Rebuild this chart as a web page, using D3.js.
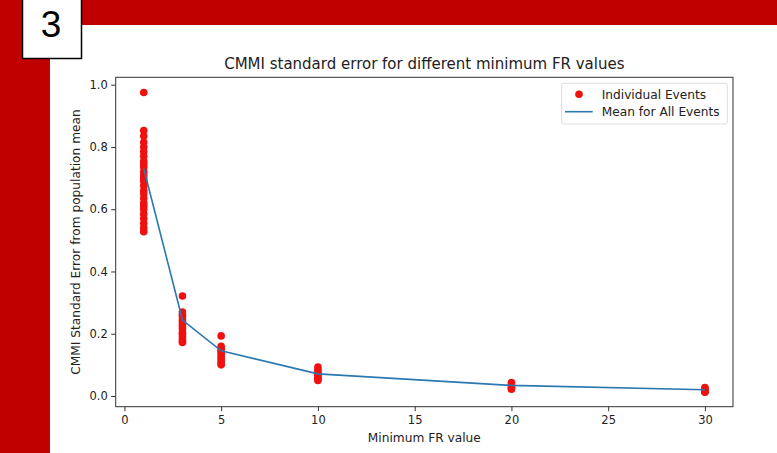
<!DOCTYPE html>
<html lang="en">
<head>
    <meta charset="UTF-8">
    <title>CMMI standard error</title>
    <script src="https://d3js.org/d3.v7.min.js"></script>
    <style>
        body { margin: 0; background: #fff; }
        svg { display: block; font-family: "DejaVu Sans", sans-serif; }
    </style>
</head>
<body>
    <svg id="chart" width="777" height="453"></svg>

    <script>
        // minimum FR values used as x positions
        var frValues = [1, 3, 5, 10, 20, 30];

        // individual event standard errors, one list per FR value
        var eventsFR1 = [0.975, 0.853, 0.835, 0.815, 0.80, 0.785, 0.77, 0.755, 0.745, 0.735, 0.72, 0.71,
                         0.70, 0.69, 0.675, 0.66, 0.65, 0.635, 0.62, 0.61, 0.60, 0.585, 0.57, 0.555, 0.54, 0.528];
        var eventsFR3 = [0.321, 0.27, 0.262, 0.255, 0.245, 0.238, 0.23, 0.222, 0.215, 0.205, 0.198, 0.19, 0.182, 0.175, 0.172];
        var eventsFR5 = [0.193, 0.16, 0.152, 0.145, 0.14, 0.132, 0.125, 0.118, 0.11, 0.104, 0.10];
        var eventsFR10 = [0.093, 0.085, 0.078, 0.072, 0.066, 0.06, 0.055, 0.05];
        var eventsFR20 = [0.043, 0.038, 0.033, 0.028, 0.024, 0.022];
        var eventsFR30 = [0.027, 0.023, 0.019, 0.016, 0.013, 0.012];

        // mean over all events
        var meanValues = [0.731, 0.244, 0.145, 0.071, 0.034, 0.020];

        var xTicks = [0, 5, 10, 15, 20, 25, 30];
        var yTicks = [0.0, 0.2, 0.4, 0.6, 0.8, 1.0];

        var svg = d3.select('#chart');

        // slide decoration: red bands and the numbered box
        svg.append('rect').attr('x', 0).attr('y', 0).attr('width', 777).attr('height', 25).attr('fill', '#c00000');
        svg.append('rect').attr('x', 0).attr('y', 0).attr('width', 50).attr('height', 453).attr('fill', '#c00000');
        svg.append('rect').attr('x', 22.5).attr('y', -2).attr('width', 59).attr('height', 60.5)
            .attr('fill', '#fff').attr('stroke', '#000').attr('stroke-width', 1.5);
        svg.append('text').attr('x', 51).attr('y', 37).attr('text-anchor', 'middle')
            .style('font-family', '"Liberation Sans", sans-serif').style('font-size', '37px')
            .text('3');

        // plot area
        var plotLeft = 115.7, plotRight = 733, plotTop = 77.3, plotBottom = 406.7;

        var x = d3.scaleLinear().domain([-0.45, 31.45]).range([plotLeft, plotRight]);
        var y = d3.scaleLinear().domain([0, 1]).range([396, 84.7]);

        var allEvents = [eventsFR1, eventsFR3, eventsFR5, eventsFR10, eventsFR20, eventsFR30];
        var points = [];
        allEvents.forEach(function(list, i) {
            list.forEach(function(v) { points.push({fr: frValues[i], se: v}); });
        });

        // frame
        svg.append('rect')
            .attr('x', plotLeft).attr('y', plotTop)
            .attr('width', plotRight - plotLeft).attr('height', plotBottom - plotTop)
            .attr('fill', 'none').attr('stroke', '#333').attr('stroke-width', 1);

        svg.append('g')
            .selectAll('circle')
            .data(points)
            .join('circle')
            .attr('cx', d => x(d.fr))
            .attr('cy', d => y(d.se))
            .attr('r', 3.8)
            .attr('fill', '#f01010');

        var line = d3.line()
            .x((d, i) => x(frValues[i]))
            .y(d => y(d));

        svg.append('path')
            .datum(meanValues)
            .attr('d', line)
            .attr('fill', 'none')
            .attr('stroke', '#2a78b0')
            .attr('stroke-width', 1.6);

        // axes
        var xAxis = svg.append('g')
            .attr('transform', `translate(0,${plotBottom})`)
            .call(d3.axisBottom(x).tickValues(xTicks).tickSize(4.5).tickPadding(5).tickSizeOuter(0));
        var yAxis = svg.append('g')
            .attr('transform', `translate(${plotLeft},0)`)
            .call(d3.axisLeft(y).tickValues(yTicks).tickFormat(d3.format('.1f')).tickSize(4.5).tickPadding(3.5).tickSizeOuter(0));
        [xAxis, yAxis].forEach(function(a) {
            a.select('.domain').remove();
            a.selectAll('line').attr('stroke', '#333');
            a.selectAll('text').attr('fill', '#222').style('font-size', '11.5px').style('font-family', '"DejaVu Sans", sans-serif');
        });

        // labels
        svg.append('text')
            .attr('x', (plotLeft + plotRight) / 2).attr('y', 69)
            .attr('text-anchor', 'middle')
            .style('font-size', '15px').attr('fill', '#222')
            .text('CMMI standard error for different minimum FR values');

        svg.append('text')
            .attr('x', (plotLeft + plotRight) / 2).attr('y', 442)
            .attr('text-anchor', 'middle')
            .style('font-size', '12.2px').attr('fill', '#222')
            .text('Minimum FR value');

        svg.append('text')
            .attr('transform', `translate(80,${(plotTop + plotBottom) / 2}) rotate(-90)`)
            .attr('text-anchor', 'middle')
            .style('font-size', '12.2px').attr('fill', '#222')
            .text('CMMI Standard Error from population mean');

        // legend
        var legend = svg.append('g');
        legend.append('rect')
            .attr('x', 561.7).attr('y', 83.3).attr('width', 165.6).attr('height', 40.7).attr('rx', 2)
            .attr('fill', '#fff').attr('stroke', '#ddd');
        legend.append('circle').attr('cx', 579).attr('cy', 94.3).attr('r', 3.8).attr('fill', '#f01010');
        legend.append('line').attr('x1', 565).attr('x2', 592.7).attr('y1', 111.7).attr('y2', 111.7)
            .attr('stroke', '#2a78b0').attr('stroke-width', 1.6);
        legend.append('text').attr('x', 601.7).attr('y', 98.5).style('font-size', '12.2px').attr('fill', '#222').text('Individual Events');
        legend.append('text').attr('x', 601.7).attr('y', 116).style('font-size', '12.2px').attr('fill', '#222').text('Mean for All Events');
    </script>
</body>
</html>
